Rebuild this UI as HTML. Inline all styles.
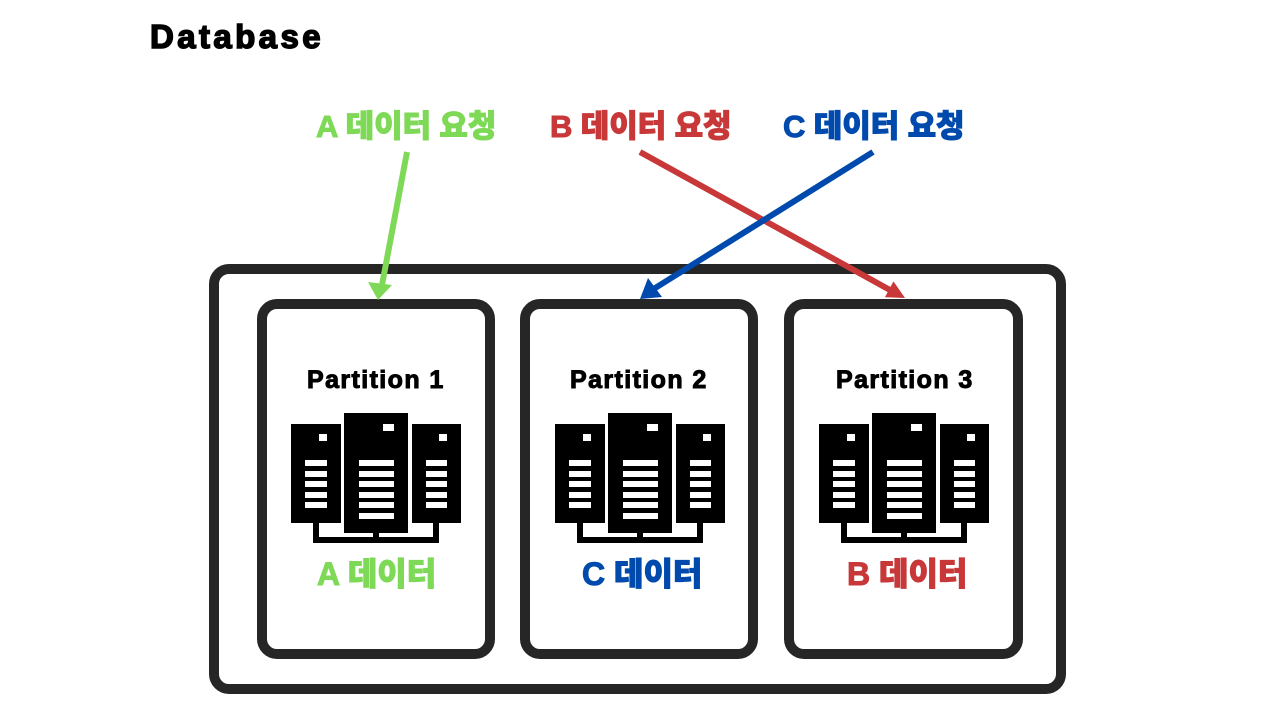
<!DOCTYPE html>
<html><head><meta charset="utf-8"><style>
body{margin:0;width:1280px;height:720px;background:#fff;overflow:hidden;position:relative;font-family:"Liberation Sans","Noto Sans CJK KR",sans-serif;font-weight:900}
.t{position:absolute;white-space:nowrap;line-height:1}
.box{position:absolute;border:10px solid #262626;border-radius:20px;box-sizing:border-box}
.p{font-size:25px;-webkit-text-stroke:1px #000;letter-spacing:1.4px}
</style></head><body>
<div class="t" style="left:150px;top:20px;font-size:33px;letter-spacing:3.4px;-webkit-text-stroke:1.5px #000">Database</div>
<div class="t" style="left:316px;top:111px;font-size:31px;color:#7ed957;-webkit-text-stroke:1px #7ed957;letter-spacing:-0.1px">A 데이터 요청</div>
<div class="t" style="left:550px;top:111px;font-size:31px;color:#c83838;-webkit-text-stroke:1px #c83838;letter-spacing:-0.1px">B 데이터 요청</div>
<div class="t" style="left:783px;top:111px;font-size:31px;color:#004aad;-webkit-text-stroke:1px #004aad;letter-spacing:-0.1px">C 데이터 요청</div>
<div class="box" style="left:209px;top:264px;width:857px;height:430px"></div>
<div class="box" style="left:257px;top:299px;width:238px;height:360px"></div>
<div class="box" style="left:520px;top:299px;width:238px;height:360px"></div>
<div class="box" style="left:784px;top:299px;width:239px;height:360px"></div>
<div class="t p" style="left:307px;top:368px">Partition 1</div>
<div class="t p" style="left:570px;top:368px">Partition 2</div>
<div class="t p" style="left:836px;top:368px">Partition 3</div>
<div class="t" style="left:317px;top:558px;font-size:32px;color:#7ed957;-webkit-text-stroke:1px #7ed957">A 데이터</div>
<div class="t" style="left:582px;top:558px;font-size:32px;color:#004aad;-webkit-text-stroke:1px #004aad">C 데이터</div>
<div class="t" style="left:847px;top:558px;font-size:32px;color:#c83838;-webkit-text-stroke:1px #c83838">B 데이터</div>
<svg width="1280" height="720" style="position:absolute;left:0;top:0">
<defs>
<g id="srv">
<rect x="291" y="424" width="50" height="99" fill="#000"/>
<rect x="344" y="413" width="64" height="120" fill="#000"/>
<rect x="412" y="424" width="49" height="99" fill="#000"/>
<path d="M316 523V540H436V523M376 533V540" stroke="#000" stroke-width="6" fill="none"/>
<g fill="#fff">
<rect x="319" y="434" width="8" height="7"/><rect x="383" y="424" width="11" height="7"/><rect x="439" y="434" width="8" height="7"/>
<rect x="305" y="460" width="22" height="6"/><rect x="305" y="471" width="22" height="6"/><rect x="305" y="481" width="22" height="6"/><rect x="305" y="492" width="22" height="6"/><rect x="305" y="502" width="22" height="6"/>
<rect x="426" y="460" width="21" height="6"/><rect x="426" y="471" width="21" height="6"/><rect x="426" y="481" width="21" height="6"/><rect x="426" y="492" width="21" height="6"/><rect x="426" y="502" width="21" height="6"/>
<rect x="359" y="460" width="35" height="6"/><rect x="359" y="471" width="35" height="6"/><rect x="359" y="481" width="35" height="6"/><rect x="359" y="492" width="35" height="6"/><rect x="359" y="502" width="35" height="6"/><rect x="359" y="513" width="35" height="6"/>
</g></g></defs>
<use href="#srv"/><use href="#srv" x="264"/><use href="#srv" x="528"/>
<line x1="407" y1="152" x2="382" y2="285" stroke="#7ed957" stroke-width="6"/>
<polygon points="368,282 392,285 378,300" fill="#7ed957"/>
<line x1="640" y1="152" x2="890" y2="290" stroke="#c83838" stroke-width="6"/>
<polygon points="905,298 884.9,297.2 893.5,281.4" fill="#c83838"/>
<line x1="873" y1="152" x2="652" y2="290" stroke="#004aad" stroke-width="6"/>
<polygon points="640,299 648,278 662,297" fill="#004aad"/>
</svg>
</body></html>
